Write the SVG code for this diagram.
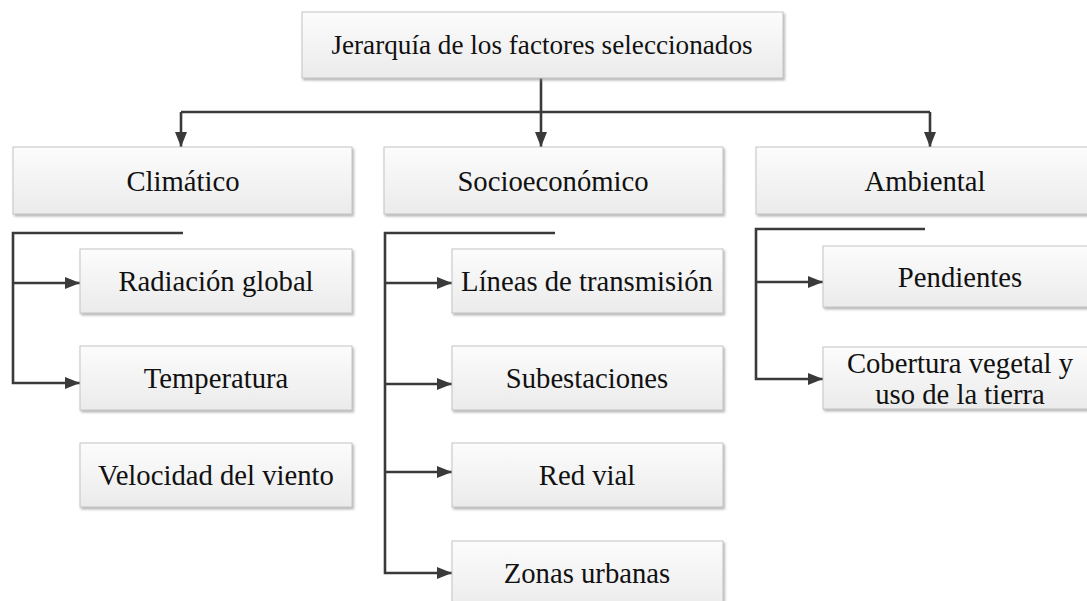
<svg xmlns="http://www.w3.org/2000/svg" width="1087" height="601" viewBox="0 0 1087 601">
<defs>
<linearGradient id="g" x1="0" y1="0" x2="0" y2="1">
<stop offset="0" stop-color="#fcfcfc"/>
<stop offset="1" stop-color="#ebebeb"/>
</linearGradient>
<filter id="sh" x="-5%" y="-10%" width="110%" height="130%">
<feDropShadow dx="1.5" dy="2" stdDeviation="1" flood-color="#888" flood-opacity="0.6"/>
</filter>
<marker id="ah" viewBox="0 0 15 12" refX="15" refY="6" markerWidth="15" markerHeight="12" markerUnits="userSpaceOnUse" orient="auto">
<path d="M0,0 L15,6 L0,12 Z" fill="#3a3a3a"/>
</marker>
</defs>
<style>
.box{fill:url(#g);stroke:#c4c4c4;stroke-width:1;filter:url(#sh)}
.t{font-family:"Liberation Serif","Times New Roman",serif;font-size:28.7px;fill:#111;text-anchor:middle}
.c{fill:none;stroke:#3a3a3a;stroke-width:2.6}
</style>
<rect width="1087" height="601" fill="#ffffff"/>
<g id="connectors">
<path class="c" d="M541,78 V147" marker-end="url(#ah)"/>
<path class="c" d="M181,112 H930"/>
<path class="c" d="M181,112 V147" marker-end="url(#ah)"/>
<path class="c" d="M930,112 V147" marker-end="url(#ah)"/>
<path class="c" d="M183,233 H13 V383 H80" marker-end="url(#ah)"/>
<path class="c" d="M13,283 H80" marker-end="url(#ah)"/>
<path class="c" d="M555,233 H385 V573 H452" marker-end="url(#ah)"/>
<path class="c" d="M385,283 H452" marker-end="url(#ah)"/>
<path class="c" d="M385,384 H452" marker-end="url(#ah)"/>
<path class="c" d="M385,472 H452" marker-end="url(#ah)"/>
<path class="c" d="M925,229 H756 V379 H823" marker-end="url(#ah)"/>
<path class="c" d="M756,282 H823" marker-end="url(#ah)"/>
</g>
<g id="root"><rect class="box" x="302" y="12" width="481" height="66"/><text class="t" x="542" y="54" style="font-size:27.2px">Jerarquía de los factores seleccionados</text></g>
<g id="climatico"><rect class="box" x="13" y="147" width="339" height="67"/><text class="t" x="183" y="191">Climático</text></g>
<g id="socio"><rect class="box" x="384" y="147" width="339" height="67"/><text class="t" x="553" y="191">Socioeconómico</text></g>
<g id="ambiental"><rect class="box" x="756" y="147" width="340" height="67"/><text class="t" x="925" y="191">Ambiental</text></g>
<g id="radiacion"><rect class="box" x="80" y="249" width="272" height="64"/><text class="t" x="216" y="291">Radiación global</text></g>
<g id="temperatura"><rect class="box" x="80" y="346" width="272" height="64"/><text class="t" x="216" y="388">Temperatura</text></g>
<g id="velocidad"><rect class="box" x="80" y="443" width="272" height="64"/><text class="t" x="216" y="485">Velocidad del viento</text></g>
<g id="lineas"><rect class="box" x="452" y="249" width="271" height="64"/><text class="t" x="587" y="291">Líneas de transmisión</text></g>
<g id="subestaciones"><rect class="box" x="452" y="346" width="271" height="64"/><text class="t" x="587" y="388">Subestaciones</text></g>
<g id="redvial"><rect class="box" x="452" y="443" width="271" height="64"/><text class="t" x="587" y="485">Red vial</text></g>
<g id="zonas"><rect class="box" x="452" y="541" width="271" height="70"/><text class="t" x="587" y="583">Zonas urbanas</text></g>
<g id="pendientes"><rect class="box" x="823" y="246" width="274" height="61"/><text class="t" x="960" y="287">Pendientes</text></g>
<g id="cobertura"><rect class="box" x="823" y="347" width="274" height="62"/><text class="t" x="960" y="373">Cobertura vegetal y</text><text class="t" x="960" y="404">uso de la tierra</text></g>
</svg>
